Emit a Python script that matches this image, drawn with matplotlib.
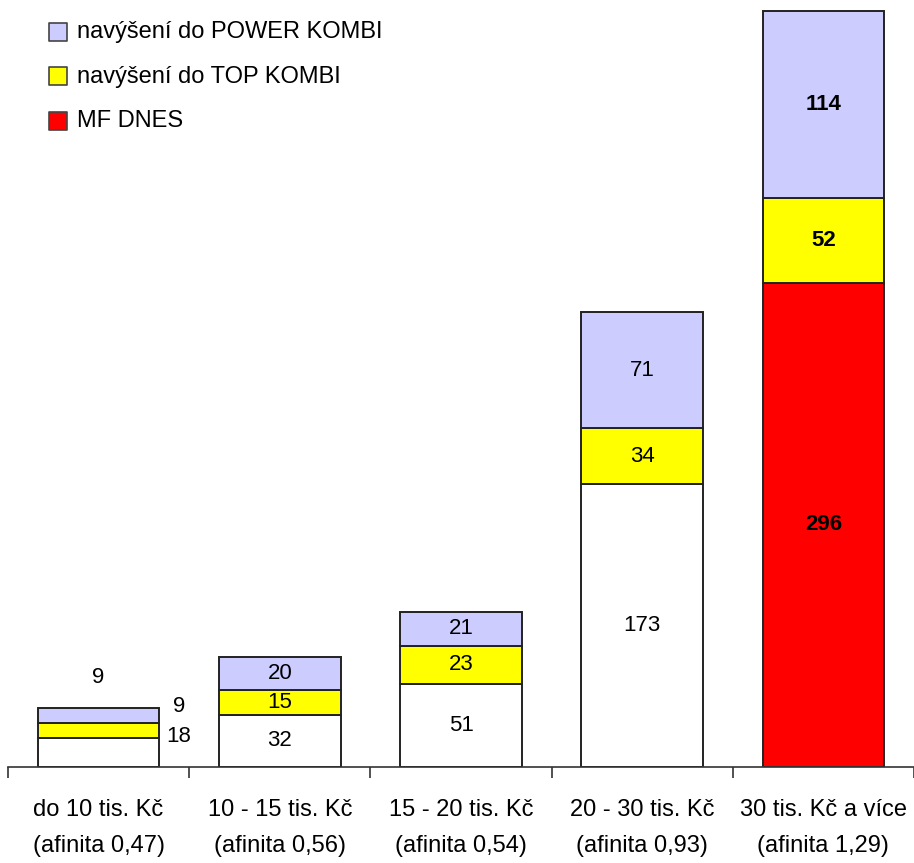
import matplotlib
matplotlib.use('Agg')
import matplotlib.pyplot as plt
import numpy as np

plt.rcParams['font.family'] = ['Liberation Sans', 'DejaVu Sans']

# data
kategorie = ['do 10 tis. Kč\n(afinita 0,47)', '10 - 15 tis. Kč\n(afinita 0,56)',
             '15 - 20 tis. Kč\n(afinita 0,54)', '20 - 30 tis. Kč\n(afinita 0,93)',
             '30 tis. Kč a více\n(afinita 1,29)']
mf_dnes = [18, 32, 51, 173, 296]
top_kombi = [9, 15, 23, 34, 52]
power_kombi = [9, 20, 21, 71, 114]

x = np.arange(len(kategorie))
sirka = 0.67
barvy_zaklad = ['white', 'white', 'white', 'white', '#ff0000']
FS = 17
FS_HODN = 16

fig = plt.figure(figsize=(9.14, 8.63), dpi=100)
ax = fig.add_axes([8 / 914, 96 / 863, 1 - 8 / 914, 1 - 96 / 863])

spodek = np.array(mf_dnes)
stred = spodek + np.array(top_kombi)

ax.bar(x, mf_dnes, sirka, color=barvy_zaklad, edgecolor='#222222', linewidth=1.4)
ax.bar(x, top_kombi, sirka, bottom=spodek, color='#ffff00', edgecolor='#222222', linewidth=1.4)
ax.bar(x, power_kombi, sirka, bottom=stred, color='#ccccff', edgecolor='#222222', linewidth=1.4)

# legenda (ručně, aby odpovídala originálu)
legenda = [('#ccccff', 'navýšení do POWER KOMBI'),
           ('#ffff00', 'navýšení do TOP KOMBI'),
           ('#ff0000', 'MF DNES')]
for i, (barva, text) in enumerate(legenda):
    y = 1 - (32 + 44.5 * i) / 767
    ax.scatter([0.055], [y], marker='s', s=170, color=barva, edgecolor='#444444',
               linewidth=1.2, transform=ax.transAxes, clip_on=False)
    ax.text(0.076, y, text, transform=ax.transAxes, fontsize=FS, va='center', ha='left')

# popisky hodnot
for i in range(len(x)):
    tucne = 'bold' if i == len(x) - 1 else 'normal'
    if i == 0:
        ax.annotate(str(mf_dnes[i]), (x[i] + sirka / 2, mf_dnes[i]), xytext=(14, 1),
                    textcoords='offset points', ha='center', va='center', fontsize=FS_HODN)
        ax.annotate(str(top_kombi[i]), (x[i] + sirka / 2, stred[i]), xytext=(14, 12),
                    textcoords='offset points', ha='center', va='center', fontsize=FS_HODN)
        ax.annotate(str(power_kombi[i]), (x[i], stred[i] + power_kombi[i]), xytext=(0, 22),
                    textcoords='offset points', ha='center', va='center', fontsize=FS_HODN)
        continue
    ax.text(x[i], mf_dnes[i] / 2, str(mf_dnes[i]), ha='center', va='center',
            fontsize=FS_HODN, fontweight=tucne)
    ax.text(x[i], spodek[i] + top_kombi[i] / 2, str(top_kombi[i]), ha='center', va='center',
            fontsize=FS_HODN, fontweight=tucne)
    ax.text(x[i], stred[i] + power_kombi[i] / 2, str(power_kombi[i]), ha='center', va='center',
            fontsize=FS_HODN, fontweight=tucne)

ax.set_xlim(-0.5, 4.5)
ax.set_ylim(0, 468.7)

for s in ['left', 'right', 'top']:
    ax.spines[s].set_visible(False)
ax.spines['bottom'].set_color('#333333')
ax.spines['bottom'].set_linewidth(1.2)

ax.set_yticks([])
ax.set_xticks(np.arange(-0.5, 5, 1))
ax.set_xticklabels([])
ax.tick_params(axis='x', which='major', length=8, width=1.2, color='#333333', direction='out')
ax.set_xticks(x, minor=True)
ax.set_xticklabels(kategorie, minor=True, fontsize=FS, linespacing=1.85)
ax.tick_params(axis='x', which='minor', length=0, pad=23)

plt.savefig('out.png', dpi=100)
plt.close()
